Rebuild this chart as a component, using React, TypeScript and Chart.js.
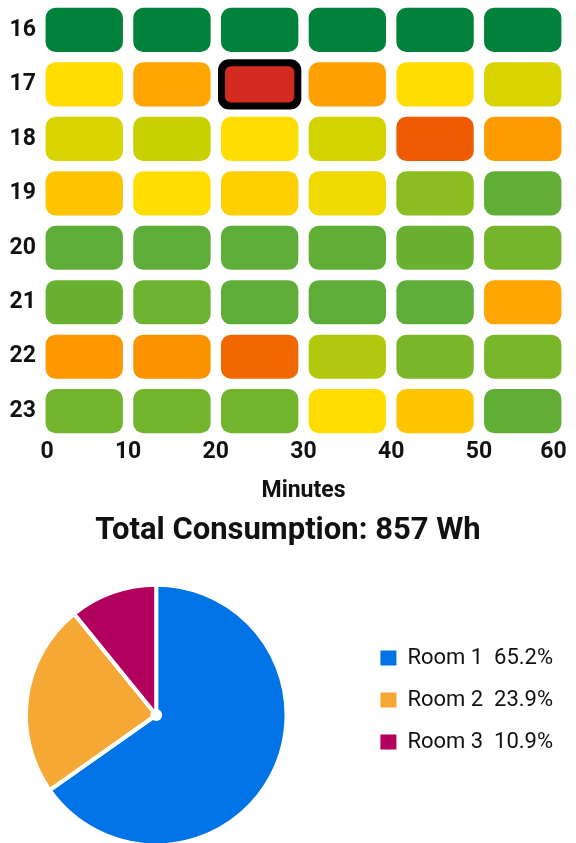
import React, { useEffect, useRef } from 'react';
import { Chart, registerables } from 'chart.js';

Chart.register(...registerables);

if (typeof document !== 'undefined') {
  document.body.style.margin = '0';
  document.body.style.overflow = 'hidden';
  document.documentElement.style.overflow = 'hidden';
}

// ---------- heatmap data ----------
const hours = ['16', '17', '18', '19', '20', '21', '22', '23'];
const minuteEdges = [0, 10, 20, 30, 40, 50, 60];

// relative consumption intensity per 10-minute slot (0 = none, 100 = peak)
const hour16 = [0, 0, 0, 0, 0, 0];
const hour17 = [50, 70, 100, 71, 50, 43];
const hour18 = [43, 40, 50, 42, 86, 72];
const hour19 = [59, 50, 55, 47, 20, 6];
const hour20 = [5, 5, 5, 6, 9, 13];
const hour21 = [9, 10, 5, 5, 5, 70];
const hour22 = [73, 74, 83, 32, 14, 14];
const hour23 = [12, 12, 12, 50, 59, 6];
const intensity = [hour16, hour17, hour18, hour19, hour20, hour21, hour22, hour23];

// ---------- pie data ----------
const rooms = ['Room 1', 'Room 2', 'Room 3'];
const roomWh = [559, 205, 93];
const roomColors = ['#0073E6', '#F5A833', '#B2005F'];

// colour scale (value -> rgb)
const scaleStops: [number, number[]][] = [
  [0, [0, 130, 59]],
  [5, [94, 173, 56]],
  [40, [200, 208, 0]],
  [50, [255, 221, 0]],
  [70, [255, 165, 0]],
  [85, [240, 95, 0]],
  [100, [212, 42, 32]],
];

function colorFor(v: number): string {
  for (let i = 1; i < scaleStops.length; i++) {
    const [v1, c1] = scaleStops[i];
    const [v0, c0] = scaleStops[i - 1];
    if (v <= v1) {
      const f = v1 === v0 ? 0 : (v - v0) / (v1 - v0);
      const c = c0.map((x, k) => Math.round(x + (c1[k] - x) * Math.max(0, f)));
      return `rgb(${c[0]},${c[1]},${c[2]})`;
    }
  }
  const c = scaleStops[scaleStops.length - 1][1];
  return `rgb(${c[0]},${c[1]},${c[2]})`;
}

const FONT = 'Roboto';
const TEXT = '#111111';

function Heatmap() {
  const ref = useRef<HTMLCanvasElement>(null);
  useEffect(() => {
    const total = roomWh.reduce((a, b) => a + b, 0);
    let maxR = 0;
    let maxC = 0;
    intensity.forEach((row, r) =>
      row.forEach((v, c) => {
        if (v > intensity[maxR][maxC]) {
          maxR = r;
          maxC = c;
        }
      })
    );
    const common = {
      borderColor: 'rgba(0,0,0,0)',
      borderSkipped: false,
      grouped: false,
      barPercentage: 1,
      categoryPercentage: 1,
    };
    const cellSets = minuteEdges.slice(0, -1).map((start, c) => ({
      ...common,
      label: `${start}`,
      data: hours.map(() => [start, minuteEdges[c + 1]]),
      backgroundColor: hours.map((_, r) => colorFor(intensity[r][c])),
      borderWidth: hours.map((_, r) => (r === maxR && c === maxC ? 9.5 : 5.5)),
      borderRadius: 15.5,
      order: 0,
    }));
    const highlight = {
      ...common,
      label: 'peak',
      data: hours.map((_, r) => (r === maxR ? [minuteEdges[maxC], minuteEdges[maxC + 1]] : null)),
      backgroundColor: '#000000',
      borderWidth: 2.5,
      borderRadius: 13.5,
      order: 1,
    };
    const chart = new Chart(ref.current as HTMLCanvasElement, {
      type: 'bar',
      data: { labels: hours, datasets: [...cellSets, highlight] as any },
      options: {
        indexAxis: 'y',
        animation: false,
        responsive: true,
        maintainAspectRatio: false,
        layout: { padding: { top: 2.7, right: 0, left: 0, bottom: 0 } },
        plugins: {
          legend: { display: false },
          tooltip: { enabled: false },
          title: {
            display: true,
            position: 'bottom',
            text: `Total Consumption: ${total} Wh`,
            color: TEXT,
            font: { family: FONT, size: 31, weight: 'bold' },
            padding: { top: 3.5, bottom: 10 },
          },
        },
        scales: {
          x: {
            type: 'linear',
            min: minuteEdges[0],
            max: minuteEdges[minuteEdges.length - 1],
            afterBuildTicks: (s: any) => {
              s.ticks = minuteEdges.map((v) => ({ value: v }));
            },
            afterFit: (s: any) => {
              s.paddingLeft = 0;
              s.paddingRight = 9.4;
            },
            ticks: {
              align: 'inner',
              padding: 0,
              color: TEXT,
              font: { family: FONT, size: 23, weight: 'bold' },
            },
            grid: { display: false, drawTicks: false },
            border: { display: false },
            title: {
              display: true,
              text: 'Minutes',
              color: TEXT,
              font: { family: FONT, size: 23, weight: 'bold' },
              padding: { top: 11.7, bottom: 4 },
            },
          },
          y: {
            type: 'category',
            offset: true,
            afterFit: (s: any) => {
              s.width = 40.4;
              s.paddingTop = 0;
              s.paddingBottom = 0;
            },
            ticks: {
              padding: 4.4,
              color: TEXT,
              font: { family: FONT, size: 23, weight: 'bold' },
            },
            grid: { display: false, drawTicks: false },
            border: { display: false },
          },
        },
      } as any,
    });
    return () => chart.destroy();
  }, []);
  return (
    <div style={{ position: 'relative', width: 576, height: 560 }}>
      <canvas ref={ref} />
    </div>
  );
}

const centerDot = {
  id: 'centerDot',
  afterDatasetsDraw(chart: any) {
    const arc = chart.getDatasetMeta(0).data[0];
    if (!arc) return;
    const ctx = chart.ctx;
    ctx.save();
    ctx.beginPath();
    ctx.arc(arc.x, arc.y, 6, 0, Math.PI * 2);
    ctx.fillStyle = '#ffffff';
    ctx.fill();
    ctx.restore();
  },
};

function RoomPie() {
  const ref = useRef<HTMLCanvasElement>(null);
  useEffect(() => {
    const total = roomWh.reduce((a, b) => a + b, 0);
    const chart = new Chart(ref.current as HTMLCanvasElement, {
      type: 'pie',
      data: {
        labels: rooms,
        datasets: [
          {
            data: roomWh,
            backgroundColor: roomColors,
            borderColor: '#ffffff',
            borderWidth: 4,
            hoverOffset: 0,
          },
        ],
      },
      options: {
        animation: false,
        responsive: true,
        maintainAspectRatio: false,
        layout: { padding: { top: 22.7, left: 0, right: 13.2, bottom: 0 } },
        plugins: {
          tooltip: { enabled: false },
          legend: {
            position: 'right',
            align: 'start',
            title: { display: true, text: ' ', font: { size: 12 }, padding: 15 },
            labels: {
              boxWidth: 16,
              boxHeight: 15,
              padding: 20,
              color: TEXT,
              font: { family: FONT, size: 22 },
              generateLabels: () =>
                rooms.map((r, i) => ({
                  text: `${r}  ${((roomWh[i] / total) * 100).toFixed(1)}%`,
                  fillStyle: roomColors[i],
                  strokeStyle: roomColors[i],
                  lineWidth: 0,
                  hidden: false,
                  index: i,
                  fontColor: TEXT,
                })),
            },
          },
        },
      } as any,
      plugins: [centerDot],
    });
    return () => chart.destroy();
  }, []);
  return (
    <div style={{ position: 'relative', marginLeft: -48.3, width: 624.3, height: 287.3 }}>
      <canvas ref={ref} />
    </div>
  );
}

export default function App() {
  return (
    <div style={{ width: 576, background: '#ffffff' }}>
      <Heatmap />
      <RoomPie />
    </div>
  );
}
